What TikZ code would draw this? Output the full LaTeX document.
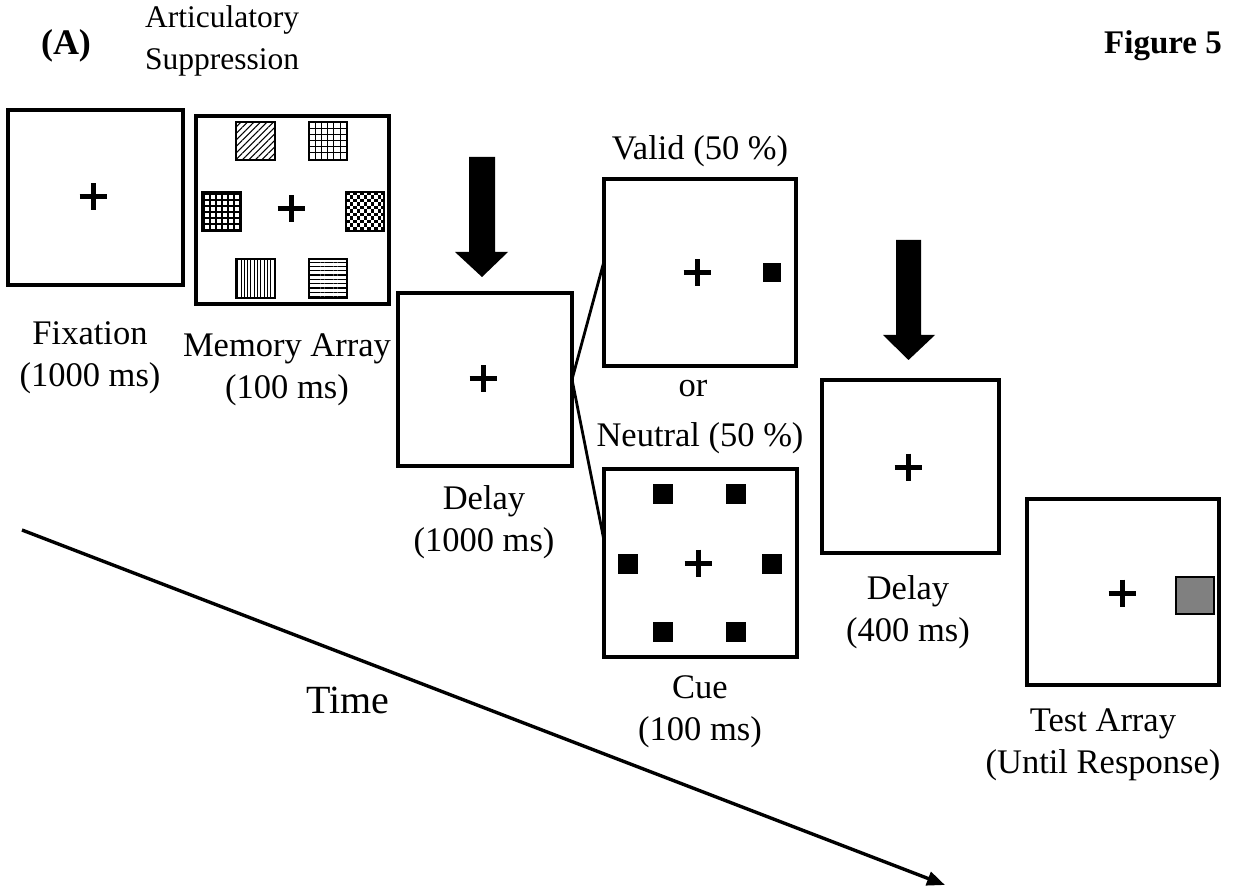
\documentclass[tikz,border=0pt]{standalone}
\usepackage{fontspec}
\setmainfont{Liberation Serif}
\usetikzlibrary{arrows.meta,patterns.meta,calc}
\begin{document}
\begin{tikzpicture}[x=1pt,y=-1pt,
  screen/.style={draw,line width=3.4pt,inner sep=0pt,outer sep=0pt},
  lbl/.style={align=center,font=\fontsize{34.5}{42}\selectfont,inner sep=0pt},
  stim/.style={draw,line width=2.8pt},
  cuesq/.style={fill=black},
  bigarrow/.style={fill=black},
  link/.style={line width=2.8pt},
  fixcross/.pic={\draw[line width=5pt] (-13.5,0)--(13.5,0) (0,-13.5)--(0,13.5);}
]
\useasboundingbox (0,0) rectangle (1234,890);

% screens
\node[screen,minimum width=175pt,minimum height=175pt] (fix) at (95.5,197.5) {};
\node[screen,minimum width=193pt,minimum height=188pt] (mem) at (292.5,210) {};
\node[screen,minimum width=174pt,minimum height=173pt] (del1) at (485,379.5) {};
\node[screen,minimum width=192pt,minimum height=187pt] (valid) at (700,272.5) {};
\node[screen,minimum width=193pt,minimum height=188pt] (cue) at (700.5,563) {};
\node[screen,minimum width=177pt,minimum height=173pt] (del2) at (910.5,466.5) {};
\node[screen,minimum width=192pt,minimum height=186pt] (test) at (1123,592) {};

% fixation crosses
\pic at (93,197) {fixcross};
\pic at (291,209) {fixcross};
\pic at (483,379) {fixcross};
\pic at (697,273) {fixcross};
\pic at (698,563) {fixcross};
\pic at (908,467) {fixcross};
\pic at (1122,593) {fixcross};

% memory array items
\draw[stim,pattern={Lines[angle=45,distance=4.6pt,line width=1.1pt]}] (236,122) rectangle (275,160);
\begin{scope}
  \clip (309,122) rectangle (347,160);
  \foreach \k in {0,...,6}{
    \draw[line width=1pt] (309+\k*6.2,122) -- (309+\k*6.2,160);
    \draw[line width=1pt] (309,122+\k*6.2) -- (347,122+\k*6.2);
  }
\end{scope}
\draw[stim] (309,122) rectangle (347,160);
\begin{scope}
  \clip (202,192) rectangle (241,231);
  \fill[pattern={Lines[angle=0,distance=6pt,line width=2.6pt]}] (202,192) rectangle (241,231);
  \fill[pattern={Lines[angle=90,distance=6pt,line width=2.6pt]}] (202,192) rectangle (241,231);
\end{scope}
\draw[stim] (202,192) rectangle (241,231);
\begin{scope}
  \clip (346,192) rectangle (384,231);
  \foreach \i in {0,...,11}
    \foreach \j in {0,...,11}{
      \pgfmathtruncatemacro\chkpar{mod(\i+\j,2)}
      \ifnum\chkpar=0
        \fill (346+\i*3.5,192+\j*3.5) rectangle +(3.5,3.5);
      \fi
    }
\end{scope}
\draw[stim] (346,192) rectangle (384,231);
\draw[stim,pattern={Lines[angle=90,distance=3.3pt,line width=0.75pt]}] (236,259) rectangle (275,298);
\draw[stim,pattern={Lines[angle=0,distance=4.3pt,line width=1.3pt]}] (309,259) rectangle (347,298);

% valid cue
\fill[cuesq] (763,263) rectangle (781,282);
% neutral cue
\foreach \cx/\cy in {663/494,736/494,628/564,772/564,663/632,736/632}
  \fill[cuesq] (\cx-10,\cy-10) rectangle (\cx+10,\cy+10);
% test item
\draw[line width=2.8pt,fill=gray] (1176,577) rectangle (1214,614);

% big arrows
\fill[bigarrow] (469,157) -- (495,157) -- (495,252) -- (508,252) -- (482,277) -- (455,252) -- (469,252) -- cycle;
\fill[bigarrow] (896,240) -- (921,240) -- (921,335) -- (935,335) -- (908.5,360) -- (883,335) -- (896,335) -- cycle;

% branch lines
\draw[link] (del1.east) -- ($(valid.north west)!0.44!(valid.south west)$);
\draw[link] (del1.east) -- ($(cue.north west)!0.38!(cue.south west)$);

% time arrow
\coordinate (t0) at (22,530);
\coordinate (t1) at (945,885);
\draw[line width=3.4pt,-{Triangle[length=18pt,width=14pt]}] (t0) -- (t1);

% labels
\node[lbl] (lfix) at (90,358) {Fixation\\(1000 ms)};
\node[lbl] (lmem) at (287,370) {Memory Array\\(100 ms)};
\node[lbl] (ldel1) at (484,522) {Delay\\(1000 ms)};
\node[lbl] (lvalid) at (700,151) {Valid (50 \%)};
\node[lbl] (lor) at (693,389) {or};
\node[lbl] (lneut) at (700,438) {Neutral (50 \%)};
\node[lbl] (lcue) at (700,712) {Cue\\(100 ms)};
\node[lbl] (ldel2) at (908,612) {Delay\\(400 ms)};
\node[lbl] (ltest) at (1103,745) {Test Array\\(Until Response)};
\node[lbl,font=\fontsize{40}{48}\selectfont] (ltime) at (348,700) {Time};
\node[lbl,font=\fontsize{36}{42}\selectfont\bfseries] (la) at (66,46) {(A)};
\node[lbl,align=left,anchor=west,font=\fontsize{31.5}{42}\selectfont] (lart) at (145,41) {Articulatory\\Suppression};
\node[lbl,anchor=east,font=\fontsize{33}{42}\selectfont\bfseries] (lfig) at (1222,46) {Figure 5};
\end{tikzpicture}
\end{document}
